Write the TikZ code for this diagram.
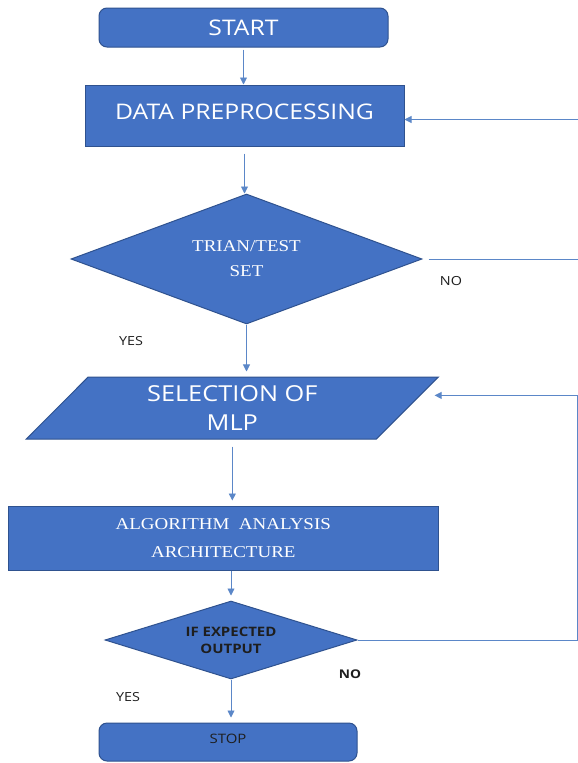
\documentclass[tikz,border=0pt]{standalone}
\usepackage{fontspec}
\setmainfont[FakeStretch=1.15]{Open Sans}
\newfontfamily\timesfont[FakeStretch=1.15]{Liberation Serif}
\usetikzlibrary{arrows.meta,calc,shapes.geometric}
\definecolor{boxblue}{HTML}{4472C4}
\definecolor{boxline}{HTML}{2F528F}
\definecolor{linkblue}{HTML}{5B87C8}
\definecolor{labeltext}{HTML}{1E1E1E}
\tikzset{
  terminal/.style={rectangle,rounded corners=8pt,draw=boxline,fill=boxblue,line width=1pt,text=white},
  process/.style={rectangle,draw=boxline,fill=boxblue,line width=1pt,text=white},
  decision/.style={diamond,draw=boxline,fill=boxblue,line width=1pt,text=white,inner sep=0pt,aspect=3,align=center},
  inout/.style={trapezium,trapezium left angle=36,trapezium right angle=144,trapezium stretches body,draw=boxline,fill=boxblue,line width=1pt,text=white,inner sep=0pt,align=center},
  flow/.style={draw=linkblue,line width=0.9pt,-{Triangle[length=7pt,width=7pt]}},
  link/.style={draw=linkblue,line width=0.9pt},
  lbl/.style={text=labeltext,font=\fontsize{12.5}{14}\selectfont}
}
\begin{document}
\begin{tikzpicture}[x=1pt,y=-1pt]
\useasboundingbox (0,0) rectangle (578,763);
\fill[white] (0,0) rectangle (578,763);
% boxes
\node[terminal,minimum width=289pt,minimum height=39pt,font=\fontsize{21.5}{24}\selectfont] (start) at (243.5,27.5) {START};
\node[process,minimum width=319pt,minimum height=61pt,text depth=8pt,font=\fontsize{21.5}{24}\selectfont] (prep) at (244.5,115.5) {DATA PREPROCESSING};
\node[decision,minimum width=351pt,minimum height=130pt,font=\timesfont\fontsize{16.5}{25}\selectfont] (split) at (246.5,259) {TRIAN/TEST\\SET};
\node[inout,minimum width=412pt,minimum height=62pt,font=\fontsize{22}{29}\selectfont] (mlp) at (232.3,408) {SELECTION OF\\MLP};
\node[process,minimum width=430pt,minimum height=64pt,align=center,font=\timesfont\fontsize{16.5}{28}\selectfont] (algo) at (223.3,538) {ALGORITHM\ \ ANALYSIS\\ARCHITECTURE};
\node[decision,minimum width=252pt,minimum height=78pt,text=labeltext,font=\bfseries\fontsize{13}{17}\selectfont] (check) at (231,640) {IF EXPECTED\\OUTPUT};
\node[terminal,minimum width=258pt,minimum height=38pt,text=labeltext,text depth=6pt,font=\fontsize{13}{14}\selectfont] (stop) at (228,742) {STOP};
% labels
\node[lbl] (noA) at (451,281) {NO};
\node[lbl] (yesA) at (131,341) {YES};
\node[lbl,font=\bfseries\fontsize{12}{14}\selectfont] (noB) at (350,674) {NO};
\node[lbl] (yesB) at (128,697) {YES};
% arrows
\draw[flow,shorten <=2pt] (start.south) -- (start.south |- prep.north);
\draw[flow,shorten <=7pt] (prep.south) -- (prep.south |- split.north);
\draw[flow] (split.south) -- ($(split.south |- mlp.north)+(0,-5)$);
\draw[flow,shorten <=7pt] (mlp.south) -- ($(mlp.south |- algo.north)+(0,-5)$);
\draw[flow] (check.north |- algo.south) -- ($(check.north)+(0,-5)$);
\draw[flow] (check.south) -- ($(check.south |- stop.north)+(0,-5)$);
% loops back
\coordinate (backA) at (581,259);
\coordinate (backB) at (577,640);
\draw[link,shorten <=6pt] (split.east) -- (backA);
\draw[flow] (backA) |- ([yshift=-4pt]prep.east);
\draw[flow] (check.east) -- (backB) |- ($(mlp.top right corner)!0.3!(mlp.bottom right corner)+(14,0)$);
\end{tikzpicture}
\end{document}
